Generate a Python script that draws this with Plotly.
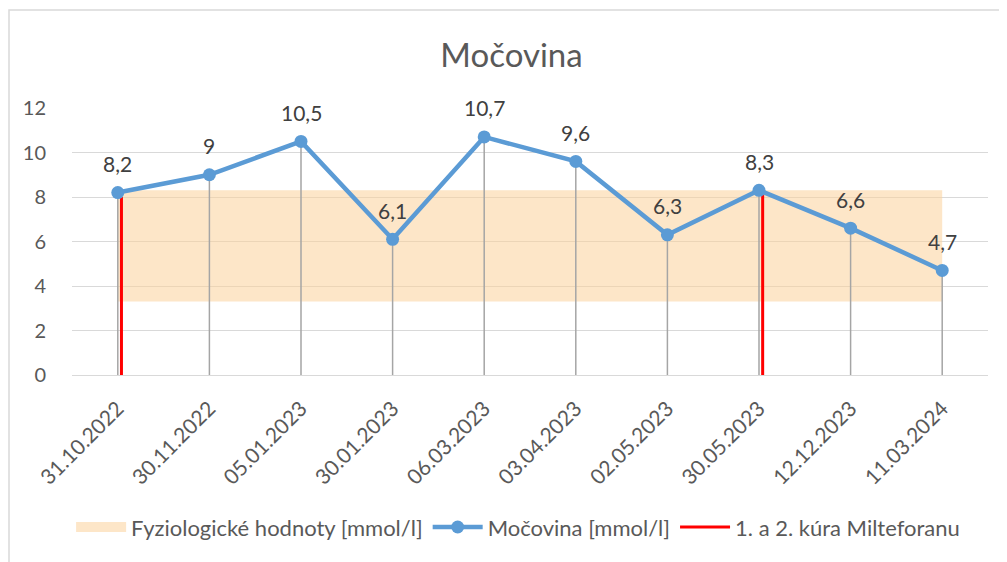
import plotly.graph_objects as go

datumy = ["31.10.2022", "30.11.2022", "05.01.2023", "30.01.2023", "06.03.2023",
          "03.04.2023", "02.05.2023", "30.05.2023", "12.12.2023", "11.03.2024"]
mocovina = [8.2, 9, 10.5, 6.1, 10.7, 9.6, 6.3, 8.3, 6.6, 4.7]
fyzio_min = 3.3
fyzio_max = 8.3
kura_datumy = ["31.10.2022", "30.05.2023"]
kura_hodnoty = [8.0, 8.1]

pozice = list(range(len(datumy)))
popisky = [str(v).replace(".", ",") for v in mocovina]

FONT = "Lato"
SEDA = "#595959"
PASMO = "rgba(251,210,155,0.55)"

fig = go.Figure()

# fyziologicke rozmezi
fig.add_trace(go.Scatter(
    x=[pozice[0], pozice[-1], pozice[-1], pozice[0], pozice[0]],
    y=[fyzio_min, fyzio_min, fyzio_max, fyzio_max, fyzio_min],
    fill="toself", fillcolor=PASMO,
    line=dict(width=0), mode="lines", hoverinfo="skip",
    showlegend=False, legendgroup="fyz",
))
# jen pro legendu (sirsi obdelnik)
fig.add_trace(go.Scatter(x=[None], y=[None], mode="lines", line=dict(color=PASMO, width=14),
                         name="Fyziologické hodnoty [mmol/l]", legendgroup="fyz"))

# svisle sede cary k ose
dx, dy = [], []
for p, v in zip(pozice, mocovina):
    dx += [p, p, None]
    dy += [0, v, None]
fig.add_trace(go.Scatter(x=dx, y=dy, mode="lines", line=dict(color="#A5A5A5", width=1.5),
                         showlegend=False, hoverinfo="skip"))

# kury milteforanu
rx, ry = [], []
for d, v in zip(kura_datumy, kura_hodnoty):
    p = datumy.index(d) + 0.04
    rx += [p, p, None]
    ry += [0, v, None]
kura = go.Scatter(x=rx, y=ry, mode="lines", line=dict(color="#FF0000", width=3),
                  name="1. a 2. kúra Milteforanu")

fig.add_trace(go.Scatter(
    x=pozice, y=mocovina, mode="lines+markers",
    line=dict(color="#5B9BD5", width=4.5), marker=dict(size=13, color="#5B9BD5"),
    name="Močovina [mmol/l]",
))
fig.add_trace(kura)
# cervene cary pod modrou carou, ale posledni v legende
fig.data = fig.data[:3] + (fig.data[4], fig.data[3])
fig.update_layout(legend_traceorder="normal")
fig.data[3].legendrank = 1003
fig.data[4].legendrank = 1002
fig.data[1].legendrank = 1001

for p, v, t in zip(pozice, mocovina, popisky):
    fig.add_annotation(x=p, y=v, text=t, showarrow=False, yshift=29, yanchor="middle",
                       font=dict(size=21, color="#404040", family=FONT))

fig.update_layout(
    width=1007, height=562,
    margin=dict(l=64, r=27, t=100, b=195, autoexpand=False),
    paper_bgcolor="white", plot_bgcolor="white",
    font=dict(family=FONT, color=SEDA),
    title=dict(text="Močovina", x=0.5, xanchor="center", y=0.915, yanchor="middle",
               font=dict(size=33, color=SEDA, family=FONT)),
    legend=dict(orientation="h", x=0.487, xanchor="center", y=-0.57, yanchor="middle",
                font=dict(size=22, color=SEDA), itemwidth=50),
    showlegend=True,
    shapes=[dict(type="rect", xref="paper", yref="paper",
                 x0=(9 - 72) / 916, x1=(1012 - 72) / 916,
                 y0=(375 - 575) / 267, y1=(375 - 10) / 267,
                 line=dict(color="#D9D9D9", width=1.5), layer="below")],
)
fig.update_xaxes(range=[-0.5, len(datumy) - 0.5], tickvals=pozice, ticktext=datumy,
                 tickangle=-45, tickfont=dict(size=21, color=SEDA), automargin=False,
                 showgrid=False, zeroline=False, showline=True, linecolor="#D9D9D9",
                 ticklabelstandoff=12)
fig.update_yaxes(range=[0, 12], dtick=2, tickfont=dict(size=20, color=SEDA),
                 showgrid=True, gridcolor="#D9D9D9", gridwidth=1, zeroline=False,
                 ticklabelstandoff=25, automargin=False)

fig.write_html("out.html")
